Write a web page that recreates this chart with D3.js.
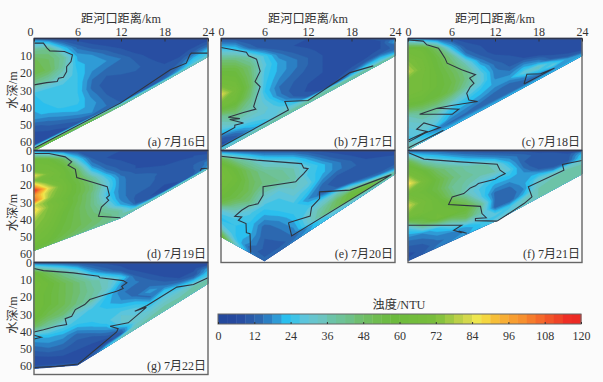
<!DOCTYPE html>
<html>
<head>
<meta charset="utf-8">
<script src="https://cdn.jsdelivr.net/npm/d3@7"></script>
<style>
html, body { margin: 0; background: #fbfbfb; }
svg { display: block; }
text { font-family: "Liberation Serif", "Noto Sans CJK SC", serif; fill: #333; }
</style>
</head>
<body>
<div class="graph"></div>
<script>
const kmStops = [0, 2, 4, 6, 8, 10, 12, 14, 16, 18, 20, 22, 24]
const sigma = [0, .1, .2, .3, .4, .5, .6, .7, .8, .9, .95, 1]
const sigmaD = [0, .1, .2, .25, .3, .35, .4, .45, .5, .55, .6, .7, .8, .9, .95, 1]
const kmTicks = [0, 6, 12, 18, 24]
const depthTicks = [10, 20, 30, 40, 50, 60]
const legendTicks = [0, 12, 24, 36, 48, 60, 72, 84, 96, 108, 120]
const palette = ['#24499d', '#26499e', '#284ea2', '#2a5aa8', '#2c68b0', '#2b7fc3', '#2f9bd6', '#2abfee',
    '#3fc3e6', '#5cc5dc', '#67c5ce', '#6cc4c0', '#6cc3a8', '#6ec298', '#6ec088', '#6fbe70',
    '#6fbd60', '#6fbc50', '#6dbb45', '#6cba3e', '#6fbb3c', '#72bc3c', '#75bc3c', '#78bd3c',
    '#86c23f', '#a0c944', '#bcd048', '#d4d84c', '#eee64e', '#f4d640', '#f6be38', '#f7ae34',
    '#f79e30', '#f6902e', '#f57c2c', '#f4692b', '#f15529', '#ef4327', '#ee2e25', '#ec2a24']

const bedA = [[0, 65], [12, 39], [24, 10.5]]
const turbA = [
    [14, 10, 7, 7, 7, 7, 7, 7, 7, 7, 7, 7, 8],
    [40, 42, 24, 14, 10, 9, 8, 7, 7, 6, 6, 6, 8],
    [52, 48, 40, 20, 18, 14, 10, 8, 7, 6, 6, 7, 10],
    [54, 50, 38, 22, 20, 18, 15, 10, 8, 7, 6, 8, 12],
    [42, 38, 32, 24, 18, 15, 14, 12, 9, 7, 7, 10, 14],
    [24, 24, 25, 24, 15, 12, 13, 13, 10, 8, 8, 12, 18],
    [22, 25, 26, 24, 14, 10, 10, 11, 10, 9, 10, 16, 22],
    [20, 22, 25, 25, 17, 11, 9, 10, 10, 10, 12, 20, 24],
    [10, 14, 18, 22, 20, 13, 9, 9, 9, 10, 14, 24, 25],
    [7, 8, 10, 14, 18, 15, 11, 9, 9, 11, 18, 26, 28],
    [7, 7, 8, 10, 12, 12, 12, 11, 11, 14, 22, 28, 30],
    [60, 60, 58, 56, 54, 50, 44, 40, 38, 36, 36, 36, 36]
]
const linesA = [
    [[0, 2.7], [1.3, 2.7], [1.8, 5.6], [2.2, 7.2], [4.2, 7.5], [5.3, 9.5], [5.1, 13.4], [4.5, 16.3], [4.5, 19.2], [4.05, 22.5], [3.4, 23], [3.2, 25], [1.75, 25.6], [0, 26.9]],
    [[0.1, 63.5], [11.9, 37.5], [18.8, 18.2], [21, 14.3], [21.5, 9.5], [21.7, 8.5], [24, 8.5]]
]

const bedB = [[0, 65], [12, 37.5], [24, 10]]
const turbB = [
    [9, 9, 9, 9, 9, 9, 9, 9, 9, 9, 9, 9, 10],
    [26, 24, 14, 10, 9, 9, 8, 8, 8, 8, 8, 9, 18],
    [46, 44, 38, 26, 16, 12, 10, 8, 8, 8, 8, 9, 20],
    [58, 56, 46, 28, 20, 16, 12, 9, 8, 8, 8, 9, 16],
    [66, 62, 48, 26, 20, 16, 12, 9, 8, 8, 8, 9, 14],
    [84, 68, 50, 25, 18, 14, 11, 9, 8, 8, 8, 10, 13],
    [66, 62, 46, 24, 15, 12, 10, 9, 8, 8, 9, 12, 14],
    [40, 48, 40, 28, 16, 10, 9, 8, 8, 9, 12, 18, 16],
    [30, 36, 34, 32, 24, 12, 8, 8, 8, 12, 20, 24, 20],
    [10, 16, 24, 28, 30, 26, 12, 8, 10, 24, 28, 30, 26],
    [8, 10, 18, 24, 32, 34, 34, 36, 36, 36, 36, 36, 34],
    [34, 36, 38, 40, 40, 40, 40, 40, 40, 40, 40, 40, 40]
]
const linesB = [
    [[0, 5.2], [3.5, 8], [3.8, 10], [4.9, 12], [5.4, 19], [4.7, 25], [5.4, 28], [4.9, 34], [4.5, 39.5], [4.8, 41], [3.1, 43], [1, 45.7], [2.6, 46.5], [1.2, 47], [3.1, 49], [1.9, 50.3], [1.9, 51.6], [0, 56]],
    [[0, 63], [9.3, 41.5], [8.8, 36.6], [12, 36], [17.8, 19.8], [21, 15.9]]
]

const bedC = [[0, 64.5], [12, 37.5], [24, 10]]
const turbC = [
    [18, 14, 10, 9, 8, 8, 8, 8, 8, 8, 8, 8, 8],
    [64, 62, 48, 22, 10, 9, 8, 8, 8, 8, 8, 8, 8],
    [72, 66, 56, 42, 16, 10, 8, 7, 7, 7, 7, 7, 8],
    [80, 68, 58, 48, 34, 16, 10, 9, 8, 8, 8, 8, 8],
    [66, 66, 60, 52, 42, 24, 14, 10, 9, 8, 8, 8, 8],
    [68, 66, 60, 54, 44, 30, 16, 12, 16, 14, 9, 8, 8],
    [58, 60, 58, 52, 40, 30, 17, 16, 22, 20, 10, 9, 8],
    [36, 44, 44, 38, 30, 24, 20, 20, 30, 34, 22, 10, 9],
    [30, 34, 34, 24, 22, 20, 16, 14, 18, 24, 30, 18, 12],
    [26, 30, 26, 18, 16, 14, 12, 12, 12, 14, 18, 20, 18],
    [34, 22, 16, 14, 14, 14, 14, 14, 14, 16, 18, 20, 20],
    [40, 32, 24, 22, 22, 22, 22, 22, 22, 22, 22, 22, 22]
]
const linesC = [
    [[0, .8], [2.1, 1.5], [2.6, 3.7], [4.2, 5.6], [4.5, 7.5], [5.1, 11.4], [5.4, 14.3], [7.4, 18.2], [9.3, 21], [8.5, 23], [9.1, 26], [8.6, 28], [8.1, 31.8], [8.4, 35.7], [9.6, 36.6], [5.8, 39], [4, 40.5], [7, 41], [6.1, 44], [1.6, 44], [4, 40.5]],
    [[0, 59], [2.6, 54], [1.2, 52.7], [2.2, 49], [4.4, 51.7], [2.3, 55], [.1, 60]],
    [[0, 63.5], [4.9, 53.2]],
    [[16, 26.4], [16.4, 20.7], [18.3, 20.5], [20.2, 17.2], [16, 26.4]]
]

const bedD = [[0, 58], [12, 39], [24, 10.5]]
const turbD = [
    [14, 10, 9, 9, 9, 9, 9, 9, 9, 9, 9, 9, 8],
    [62, 60, 50, 26, 12, 9, 8, 8, 8, 8, 8, 8, 8],
    [66, 66, 60, 44, 18, 12, 10, 8, 8, 8, 8, 9, 9],
    [84, 70, 62, 50, 24, 14, 11, 9, 8, 8, 8, 9, 9],
    [72, 66, 62, 52, 32, 18, 12, 9, 8, 8, 9, 9, 9],
    [92, 72, 64, 54, 40, 24, 14, 11, 10, 9, 9, 9, 10],
    [117, 84, 66, 56, 44, 28, 16, 12, 11, 10, 9, 10, 10],
    [100, 78, 66, 56, 46, 30, 16, 13, 12, 10, 10, 10, 12],
    [108, 76, 64, 56, 46, 30, 16, 13, 13, 11, 10, 11, 14],
    [82, 70, 62, 54, 44, 28, 16, 13, 13, 10, 10, 12, 15],
    [90, 72, 64, 54, 44, 26, 16, 13, 13, 10, 10, 12, 16],
    [76, 70, 60, 52, 44, 30, 16, 13, 12, 10, 10, 12, 16],
    [72, 66, 58, 52, 46, 38, 20, 11, 10, 9, 9, 11, 18],
    [66, 62, 56, 52, 48, 44, 38, 12, 9, 8, 9, 12, 20],
    [62, 60, 54, 50, 46, 44, 38, 22, 12, 9, 10, 14, 24],
    [56, 54, 50, 46, 44, 42, 38, 38, 36, 36, 36, 38, 36]
]
const linesD = [
    [[0, 1.7], [2.1, 1.7], [4.3, 3.7], [5.2, 6.6], [4.7, 8.5], [5.7, 10.9], [5.9, 15.7], [8.2, 18.6], [10.1, 21], [10.4, 26], [10, 27.5], [10.3, 28.9], [9.3, 32.8], [8.9, 38.2], [11.9, 39]],
    [[22.9, 11.8], [23.1, 10.5], [24, 10.3]]
]

const bedE = [[0, 50], [6, 64], [24, 13.6]]
const turbE = [
    [10, 10, 10, 10, 10, 10, 9, 8, 8, 8, 8, 8, 8],
    [52, 42, 36, 30, 28, 26, 20, 14, 10, 9, 8, 8, 8],
    [66, 58, 48, 42, 40, 36, 28, 22, 16, 12, 9, 9, 9],
    [68, 62, 50, 44, 42, 38, 26, 22, 16, 13, 10, 9, 9],
    [66, 58, 50, 34, 30, 34, 30, 18, 12, 10, 9, 9, 9],
    [62, 54, 44, 26, 26, 30, 24, 13, 10, 9, 9, 9, 10],
    [54, 40, 28, 20, 24, 26, 18, 13, 12, 10, 9, 10, 12],
    [30, 28, 24, 13, 18, 24, 26, 30, 36, 32, 20, 14, 14],
    [22, 24, 22, 12, 14, 20, 32, 38, 48, 56, 50, 30, 20],
    [34, 24, 18, 11, 12, 16, 30, 42, 50, 58, 60, 50, 34],
    [48, 26, 13, 11, 11, 13, 18, 26, 30, 34, 36, 40, 36],
    [60, 34, 16, 14, 14, 16, 20, 26, 28, 30, 32, 36, 36]
]
const linesE = [
    [[0, 3.3], [4.9, 5.6], [11.1, 7.6], [11.4, 10.1], [12, 10.5], [11.4, 13.4], [10.7, 16.3], [10.3, 18.2], [5.8, 21], [5.8, 26], [5.1, 30.9], [3.8, 32.2], [2.85, 34.7], [1.9, 38.2], [2.85, 38.6], [2.4, 40.5], [3.45, 42.4], [3.5, 47.7], [4, 48.3], [4.1, 59.3]],
    [[9.3, 41.9], [12.3, 38], [12.5, 32.8], [13.6, 27.9], [13.6, 24], [17.8, 23], [23.5, 14], [9.75, 49.6], [9.3, 41.9]]
]

const bedF = [[0, 64], [12, 41], [24, 13.6]]
const turbF = [
    [12, 12, 12, 10, 9, 8, 8, 8, 8, 8, 8, 8, 8],
    [52, 36, 30, 26, 22, 20, 18, 16, 14, 10, 10, 9, 20],
    [68, 60, 48, 42, 38, 38, 34, 22, 12, 10, 10, 10, 24],
    [88, 70, 56, 46, 40, 38, 36, 28, 14, 9, 9, 10, 26],
    [66, 62, 54, 42, 38, 30, 24, 24, 18, 12, 10, 14, 30],
    [82, 68, 60, 46, 34, 26, 20, 18, 20, 22, 18, 30, 34],
    [68, 66, 62, 58, 48, 28, 14, 14, 20, 30, 34, 36, 36],
    [28, 50, 64, 62, 58, 42, 14, 12, 18, 34, 36, 36, 36],
    [16, 18, 24, 36, 50, 38, 13, 12, 22, 36, 36, 36, 36],
    [10, 12, 16, 18, 22, 30, 28, 26, 34, 36, 36, 36, 36],
    [8, 10, 14, 16, 18, 24, 26, 28, 34, 36, 36, 36, 36],
    [10, 12, 16, 18, 20, 24, 30, 32, 34, 36, 36, 36, 36]
]
const linesF = [
    [[0, 1.2], [2.2, 5], [4, 5.6], [7.2, 6.6], [12.3, 8], [12.7, 11.4], [13.4, 13.4], [12.5, 15.3], [12, 16.7], [9.7, 19.2], [9.3, 20.5], [8.6, 21.7], [7.7, 25], [6.1, 26.9], [5.6, 31.4], [10, 32.4], [10.2, 36.6], [10.8, 39], [9.3, 39.5], [9.3, 40.7], [12.3, 41]],
    [[12.3, 41], [16, 30.8], [17.1, 26.9], [16.6, 21], [21.5, 11.4], [21.3, 8.1], [24, 5.8]],
    [[0, 43.4], [4.5, 43.4], [7.4, 43.4], [6.3, 46.3], [7.4, 47.7], [7, 46.8], [8.1, 48]]
]

const bedG = [[0, 61.5], [6, 59.5], [24, 12.2]]
const turbG = [
    [10, 10, 10, 9, 8, 8, 8, 8, 8, 8, 8, 8, 8],
    [60, 50, 42, 34, 20, 14, 10, 8, 8, 8, 8, 8, 8],
    [66, 60, 52, 46, 38, 34, 26, 12, 9, 8, 8, 8, 14],
    [64, 58, 52, 46, 40, 34, 18, 16, 12, 9, 8, 9, 20],
    [64, 58, 52, 44, 38, 24, 16, 12, 14, 12, 9, 9, 22],
    [62, 52, 46, 30, 26, 22, 18, 14, 20, 16, 14, 14, 24],
    [50, 40, 30, 24, 26, 26, 24, 22, 14, 24, 22, 22, 26],
    [22, 22, 20, 14, 20, 26, 30, 28, 22, 28, 28, 30, 30],
    [14, 16, 14, 10, 11, 18, 30, 30, 28, 32, 34, 36, 36],
    [8, 9, 9, 8, 8, 9, 14, 30, 34, 36, 36, 36, 36],
    [8, 8, 8, 8, 8, 8, 10, 34, 36, 36, 36, 36, 36],
    [10, 10, 10, 10, 12, 24, 36, 36, 36, 36, 36, 36, 36]
]
const linesG = [
    [[0, 3.5], [1.3, 4.7], [5.4, 6], [8.9, 8], [9.1, 8.9], [12.3, 10.5], [12.8, 11.8], [12.1, 13.8], [12.3, 15.1], [11.4, 16.7], [9.1, 19.6], [7.7, 21.5], [7, 24.4], [5.7, 27.3], [5.2, 31.2], [4.3, 32.6], [4.5, 36], [3.1, 37], [1.3, 39], [0, 40.3]],
    [[0, 42.2], [1, 43.4], [0, 44.4]],
    [[0, 60.9], [3.1, 60.3], [6.1, 58.9], [11.4, 40.3], [11.6, 38.4], [10.5, 37], [13, 35], [15.5, 26], [13.9, 28.3], [15.6, 25], [19.7, 14.3], [22, 12.8], [24, 8.9]]
]

const panels = [
    { name: '(a) 7月16日', bed: bedA, turb: turbA, lines: linesA, left: 34, top: 38.5, xLabels: true, yTicks: depthTicks, zeroShift: -4, yTitle: 51.5 },
    { name: '(b) 7月17日', bed: bedB, turb: turbB, lines: linesB, left: 221, top: 38.5, xLabels: true },
    { name: '(c) 7月18日', bed: bedC, turb: turbC, lines: linesC, left: 408, top: 38.5, xLabels: true },
    { name: '(d) 7月19日', bed: bedD, turb: turbD, lines: linesD, levelsAt: sigmaD, left: 34, top: 150.5, yTicks: [0, ...depthTicks], yTitle: 62 },
    { name: '(e) 7月20日', bed: bedE, turb: turbE, lines: linesE, left: 221, top: 150.5 },
    { name: '(f) 7月21日', bed: bedF, turb: turbF, lines: linesF, left: 408, top: 150.5 },
    { name: '(g) 7月22日', bed: bedG, turb: turbG, lines: linesG, left: 34, top: 262.5, yTicks: [0, ...depthTicks], yTitle: 52.5 }
]

const panelW = 174, panelH = 112
const step = 3
const levels = palette.map((c, i) => i * step)
const colour = d3.scaleThreshold().domain(levels.slice(1)).range(palette)

const svg = d3.select('.graph').append('svg')
    .attr('width', 603)
    .attr('height', 382)
svg.append('rect').attr('width', 603).attr('height', 382).attr('fill', '#fbfbfb')

panels.forEach(p => {
    const g = svg.append('g').attr('transform', `translate(${p.left}, ${p.top})`)
    const x = d3.scaleLinear().domain([0, 24]).range([0, panelW])
    const y = d3.scaleLinear().domain([0, 65]).range([0, panelH])
    const bedDepth = d3.scaleLinear().domain(p.bed.map(d => d[0])).range(p.bed.map(d => d[1]))
    const rows = p.levelsAt || sigma

    // contour grid positions run half a cell off the nodes
    const colKm = d3.scaleLinear().domain(kmStops.map((d, i) => i + .5)).range(kmStops).clamp(true)
    const rowSig = d3.scaleLinear().domain(rows.map((d, i) => i + .5)).range(rows).clamp(true)
    const project = d3.geoTransform({
        point(cx, cy) {
            const km = colKm(cx)
            this.stream.point(x(km), y(rowSig(cy) * bedDepth(km)))
        }
    })
    const path = d3.geoPath(project)
    const bands = d3.contours()
        .size([kmStops.length, rows.length])
        .thresholds(levels)(p.turb.flat())

    g.selectAll('.band')
        .data(bands)
        .enter().append('path')
            .attr('class', 'band')
            .attr('d', path)
            .attr('fill', d => colour(d.value))
            .attr('stroke', d => colour(d.value))
            .attr('stroke-width', .3)

    const line = d3.line().x(d => x(d[0])).y(d => y(d[1]))
    g.selectAll('.edge')
        .data(p.lines)
        .enter().append('path')
            .attr('class', 'edge')
            .attr('d', line)
            .attr('fill', 'none')
            .attr('stroke', '#2f3540')
            .attr('stroke-width', 1.1)

    g.append('rect')
        .attr('width', panelW)
        .attr('height', panelH)
        .attr('fill', 'none')
        .attr('stroke', '#666')
        .attr('stroke-width', 1.4)
    g.append('line')
        .attr('x2', panelW)
        .attr('stroke', '#2d3550')
        .attr('stroke-width', 1.4)

    if (p.xLabels) {
        const axis = g.append('g')
            .call(d3.axisTop(x).tickValues(kmTicks).tickSize(-3).tickPadding(3))
            .call(a => a.select('.domain').remove())
        axis.selectAll('line').attr('stroke', '#333')
        axis.selectAll('text').attr('font-size', 12).attr('font-family', null)
            .attr('dx', d => d === 0 && p.zeroShift ? p.zeroShift : 0)
        g.append('text')
            .attr('x', panelW / 2)
            .attr('y', -16)
            .attr('text-anchor', 'middle')
            .attr('font-size', 12.2)
            .text('距河口距离/km')
    }
    if (p.yTicks) {
        const axis = g.append('g')
            .call(d3.axisLeft(y).tickValues(p.yTicks).tickSize(0).tickPadding(2))
            .call(a => a.select('.domain').remove())
        axis.selectAll('text').attr('font-size', 12).attr('font-family', null)
        g.append('text')
            .attr('transform', `translate(-17, ${p.yTitle}) rotate(-90)`)
            .attr('text-anchor', 'middle')
            .attr('font-size', 12.2)
            .text('水深/m')
    }
    g.append('text')
        .attr('x', panelW - 2)
        .attr('y', panelH - 5)
        .attr('text-anchor', 'end')
        .attr('font-size', 12)
        .text(p.name)
})

// colour bar
const barX = d3.scaleLinear().domain([0, 120]).range([218, 581])
const bar = svg.append('g').attr('transform', 'translate(0, 314)')
bar.selectAll('rect')
    .data(levels)
    .enter().append('rect')
        .attr('x', d => barX(d))
        .attr('width', d => barX(d + step) - barX(d) + .4)
        .attr('height', 10)
        .attr('fill', d => colour(d))
bar.append('rect')
    .attr('x', 218)
    .attr('width', 363)
    .attr('height', 10)
    .attr('fill', 'none')
    .attr('stroke', '#666')
const barAxis = svg.append('g')
    .attr('transform', 'translate(0, 324)')
    .call(d3.axisBottom(barX).tickValues(legendTicks).tickSize(-2).tickPadding(7))
    .call(a => a.select('.domain').remove())
barAxis.selectAll('text').attr('font-size', 12).attr('font-family', null)
barAxis.selectAll('line').attr('stroke', '#333')
svg.append('text')
    .attr('x', 399)
    .attr('y', 309)
    .attr('text-anchor', 'middle')
    .attr('font-size', 12.2)
    .text('浊度/NTU')
</script>
</body>
</html>
